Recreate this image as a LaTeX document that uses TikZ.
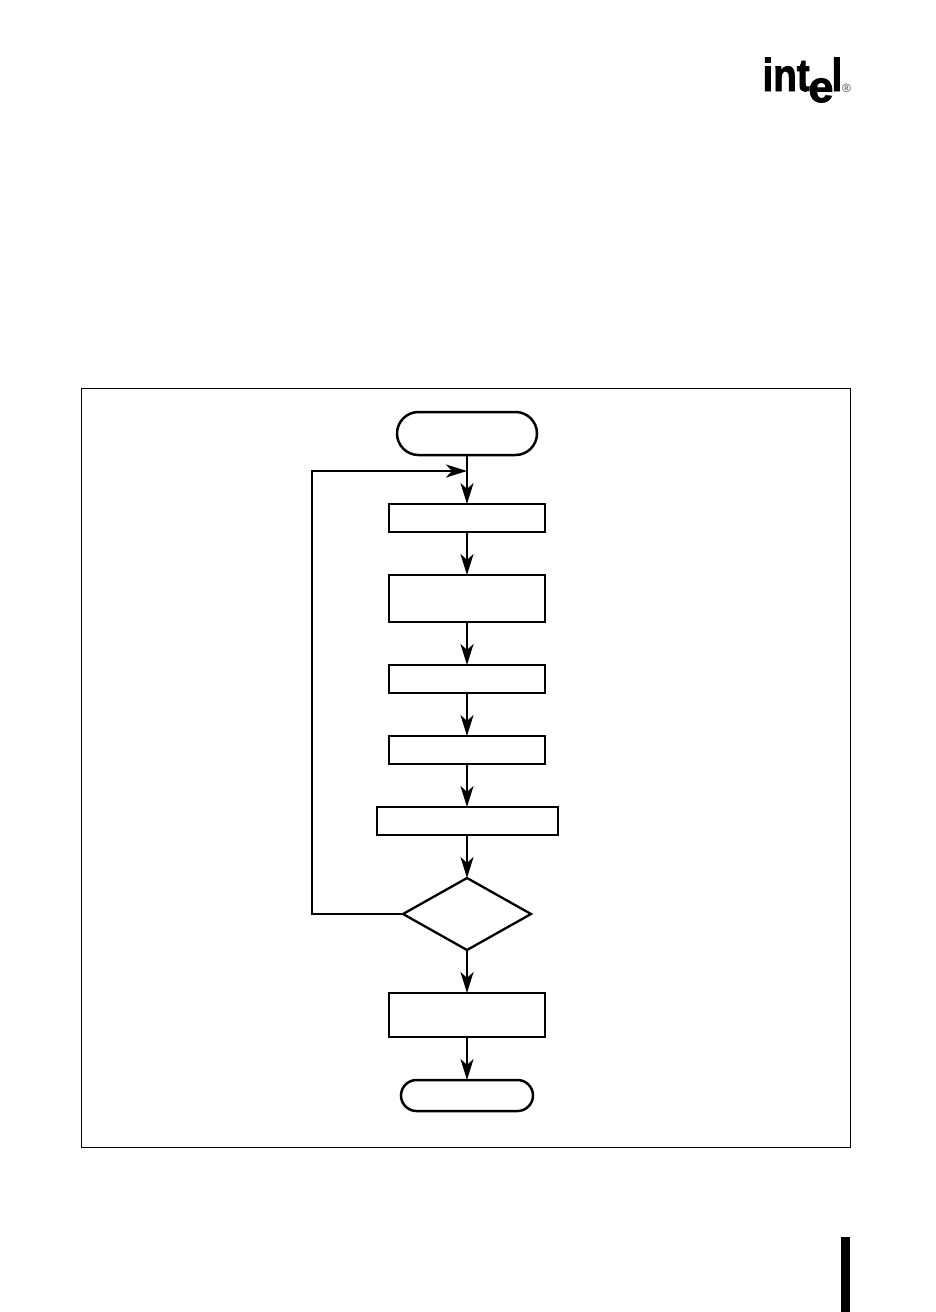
\documentclass[tikz,border=0pt]{standalone}
\usepackage{fontspec}
\setmainfont{Liberation Sans}
\newfontfamily\logofont[FakeBold=2]{Liberation Sans Bold}
\usetikzlibrary{arrows.meta,shapes.geometric,shapes.misc}
\tikzset{
  flowbox/.style={draw=black,line width=2.5pt,rectangle,inner sep=0pt,outer sep=0pt,minimum width=156pt},
  terminal/.style={draw=black,line width=2.5pt,rounded rectangle,inner sep=0pt,outer sep=0pt},
  decision/.style={draw=black,line width=2.3pt,diamond,inner sep=0pt,outer sep=0pt,minimum width=128pt,minimum height=72pt},
  flow/.style={draw=black,line width=2.5pt,-{Stealth[length=21pt,width=13pt,inset=6pt]}},
  loopline/.style={draw=black,line width=2.6pt,-{Stealth[length=21pt,width=13pt,inset=6pt,black]}},
  logotext/.style={inner sep=0pt,outer sep=0pt}
}
\begin{document}
\begin{tikzpicture}[x=1pt,y=-1pt]
\useasboundingbox (0,0) rectangle (936,1312);
\fill[white] (0,0) rectangle (936,1312);
% frame
\draw[black,line width=0.8pt] (81,388) rectangle (850,1147);
% nodes
\node[terminal,minimum width=140pt,minimum height=43pt] (start) at (467,433.5) {};
\coordinate (join) at (467,471);
\node[flowbox,minimum height=28pt] (b1) at (467,518) {};
\node[flowbox,minimum height=47pt] (b2) at (467,598.5) {};
\node[flowbox,minimum height=28pt] (b3) at (467,679) {};
\node[flowbox,minimum height=28pt] (b4) at (467,750) {};
\node[flowbox,minimum width=181pt,minimum height=28pt] (b5) at (467.5,821) {};
\node[decision] (test) at (467,914) {};
\node[flowbox,minimum height=44pt] (b6) at (467,1015) {};
\node[terminal,minimum width=132pt,minimum height=31pt] (stop) at (467,1095.5) {};
% connectors
\draw[flow] (start.south) -- (b1.north);
\draw[flow] (b1.south) -- (b2.north);
\draw[flow] (b2.south) -- (b3.north);
\draw[flow] (b3.south) -- (b4.north);
\draw[flow] (b4.south) -- (b5.north -| b4.south);
\draw[flow] (b5.south -| test.north) -- (test.north);
\draw[flow] (test.south) -- (b6.north);
\draw[flow] (b6.south) -- (stop.north);
\draw[loopline] (test.west) -- (312,914) -- (312,471) -- (join);
% logo
\node[logotext,anchor=base west,font=\logofont\fontsize{46}{46}\selectfont] (logoint) at (762.5,91) {\scalebox{.84}[1]{int}};
\node[logotext,anchor=base west,font=\logofont\fontsize{44}{44}\selectfont] (logoe) at (808.5,102) {\scalebox{1.02}[1]{e}};
\node[logotext,anchor=base west,font=\logofont\fontsize{46}{46}\selectfont] (logol) at (831.5,91) {\scalebox{.84}[1]{l}};
\node[inner sep=0pt,outer sep=0pt,font=\fontsize{12}{12}\selectfont,text=black!75] (logor) at (846.5,88.5) {®};
% side bar
\fill[black] (841,1237) rectangle (850,1312);
\end{tikzpicture}
\end{document}
